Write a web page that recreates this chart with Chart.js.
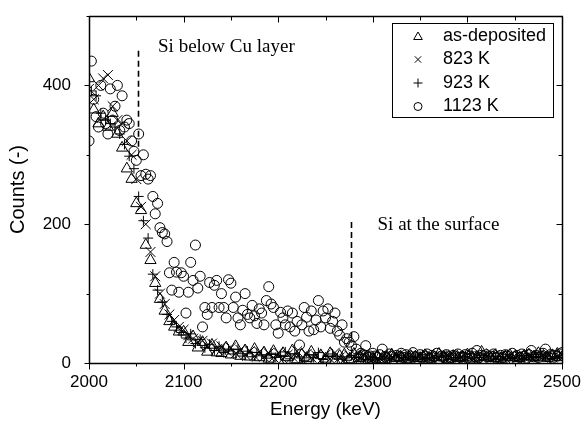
<!DOCTYPE html>
<html>
<head>
<meta charset="utf-8">
<script src="https://cdn.jsdelivr.net/npm/chart.js@4/dist/chart.umd.min.js"></script>
<style>
  html, body { margin: 0; padding: 0; background: #fff; }
  #wrap { width: 581px; height: 421px; }
</style>
</head>
<body>
<div id="wrap"><canvas id="c"></canvas></div>
<script>
// RBS spectra, Si signal

// energy grid (keV), 5 keV channels
const energy = [
  2000, 2005, 2010, 2015, 2020, 2025, 2030, 2035, 2040, 2045,
  2050, 2055, 2060, 2065, 2070, 2075, 2080, 2085, 2090, 2095,
  2100, 2105, 2110, 2115, 2120, 2125, 2130, 2135, 2140, 2145,
  2150, 2155, 2160, 2165, 2170, 2175, 2180, 2185, 2190, 2195,
  2200, 2205, 2210, 2215, 2220, 2225, 2230, 2235, 2240, 2245,
  2250, 2255, 2260, 2265, 2270, 2275, 2280, 2285, 2290, 2295,
  2300, 2305, 2310, 2315, 2320, 2325, 2330, 2335, 2340, 2345,
  2350, 2355, 2360, 2365, 2370, 2375, 2380, 2385, 2390, 2395,
  2400, 2405, 2410, 2415, 2420, 2425, 2430, 2435, 2440, 2445,
  2450, 2455, 2460, 2465, 2470, 2475, 2480, 2485, 2490, 2495,
  2500
];

// same channels shifted by half a step (923 K run)
const energyShift = [
  2002.5, 2007.5, 2012.5, 2017.5, 2022.5, 2027.5, 2032.5, 2037.5, 2042.5, 2047.5,
  2052.5, 2057.5, 2062.5, 2067.5, 2072.5, 2077.5, 2082.5, 2087.5, 2092.5, 2097.5,
  2102.5, 2107.5, 2112.5, 2117.5, 2122.5, 2127.5, 2132.5, 2137.5, 2142.5, 2147.5,
  2152.5, 2157.5, 2162.5, 2167.5, 2172.5, 2177.5, 2182.5, 2187.5, 2192.5, 2197.5,
  2202.5, 2207.5, 2212.5, 2217.5, 2222.5, 2227.5, 2232.5, 2237.5, 2242.5, 2247.5,
  2252.5, 2257.5, 2262.5, 2267.5, 2272.5, 2277.5, 2282.5, 2287.5, 2292.5, 2297.5,
  2302.5, 2307.5, 2312.5, 2317.5, 2322.5, 2327.5, 2332.5, 2337.5, 2342.5, 2347.5,
  2352.5, 2357.5, 2362.5, 2367.5, 2372.5, 2377.5, 2382.5, 2387.5, 2392.5, 2397.5,
  2402.5, 2407.5, 2412.5, 2417.5, 2422.5, 2427.5, 2432.5, 2437.5, 2442.5, 2447.5,
  2452.5, 2457.5, 2462.5, 2467.5, 2472.5, 2477.5, 2482.5, 2487.5, 2492.5, 2497.5
];

// energy grid for the 1123 K spectrum (2.5 keV channels)
const energyFine = [
  2000, 2002.5, 2005, 2007.5, 2010, 2012.5, 2015, 2017.5, 2020, 2022.5,
  2025, 2027.5, 2030, 2032.5, 2035, 2037.5, 2040, 2042.5, 2045, 2047.5,
  2050, 2052.5, 2055, 2057.5, 2060, 2062.5, 2065, 2067.5, 2070, 2072.5,
  2075, 2077.5, 2080, 2082.5, 2085, 2087.5, 2090, 2092.5, 2095, 2097.5,
  2100, 2102.5, 2105, 2107.5, 2110, 2112.5, 2115, 2117.5, 2120, 2122.5,
  2125, 2127.5, 2130, 2132.5, 2135, 2137.5, 2140, 2142.5, 2145, 2147.5,
  2150, 2152.5, 2155, 2157.5, 2160, 2162.5, 2165, 2167.5, 2170, 2172.5,
  2175, 2177.5, 2180, 2182.5, 2185, 2187.5, 2190, 2192.5, 2195, 2197.5,
  2200, 2202.5, 2205, 2207.5, 2210, 2212.5, 2215, 2217.5, 2220, 2222.5,
  2225, 2227.5, 2230, 2232.5, 2235, 2237.5, 2240, 2242.5, 2245, 2247.5,
  2250, 2252.5, 2255, 2257.5, 2260, 2262.5, 2265, 2267.5, 2270, 2272.5,
  2275, 2277.5, 2280, 2282.5, 2285, 2287.5, 2290, 2292.5, 2295, 2297.5,
  2300, 2302.5, 2305, 2307.5, 2310, 2312.5, 2315, 2317.5, 2320, 2322.5,
  2325, 2327.5, 2330, 2332.5, 2335, 2337.5, 2340, 2342.5, 2345, 2347.5,
  2350, 2352.5, 2355, 2357.5, 2360, 2362.5, 2365, 2367.5, 2370, 2372.5,
  2375, 2377.5, 2380, 2382.5, 2385, 2387.5, 2390, 2392.5, 2395, 2397.5,
  2400, 2402.5, 2405, 2407.5, 2410, 2412.5, 2415, 2417.5, 2420, 2422.5,
  2425, 2427.5, 2430, 2432.5, 2435, 2437.5, 2440, 2442.5, 2445, 2447.5,
  2450, 2452.5, 2455, 2457.5, 2460, 2462.5, 2465, 2467.5, 2470, 2472.5,
  2475, 2477.5, 2480, 2482.5, 2485, 2487.5, 2490, 2492.5, 2495, 2497.5,
  2500
];

// counts on `energy`
const asDeposited = [
  410, 365, 345, 355, 340, 360, 330, 310, 280, 265,
  230, 220, 170, 148, 115, 92, 75, 60, 52, 45,
  45, 30, 38, 22, 30, 16, 26, 15, 14, 22,
  12, 24, 10, 18, 9, 20, 8, 15, 6, 17,
  4, 14, 8, 18, 5, 12, 7, 16, 4, 11,
  6, 14, 3, 10, 12, 5, 13, 7, 9, 4,
  6, 10, 5, 9, 12, 7, 8, 6, 10, 9,
  7, 11, 6, 8, 13, 9, 5, 10, 7, 8,
  12, 6, 9, 16, 8, 7, 10, 6, 9, 11,
  8, 7, 10, 12, 8, 14, 9, 7, 11, 13,
  8
];

// counts on `energy`
const k823 = [
  395, 380, 400, 410, 415, 370, 350, 345, 320, 300,
  265, 225, 200, 160, 125, 100, 85, 70, 62, 52,
  48, 40, 35, 30, 32, 25, 28, 20, 24, 18,
  22, 14, 19, 12, 17, 10, 16, 9, 14, 8,
  15, 6, 12, 9, 17, 5, 13, 8, 11, 4,
  12, 6, 15, 8, 5, 11, 9, 4, 12, 7,
  11, 6, 9, 10, 8, 12, 7, 9, 11, 6,
  10, 8, 13, 9, 7, 10, 8, 12, 9, 6,
  11, 8, 10, 7, 9, 14, 8, 11, 7, 10,
  9, 12, 8, 10, 7, 11, 9, 13, 8, 10,
  12
];

// counts on `energyShift`
const k923 = [
  392, 385, 360, 350, 345, 340, 330, 315, 298, 280,
  240, 205, 180, 128, 105, 88, 70, 60, 52, 44,
  36, 42, 28, 34, 22, 27, 18, 24, 15, 20,
  13, 20, 10, 17, 9, 15, 12, 7, 14, 8,
  11, 16, 6, 13, 9, 4, 12, 8, 15, 5,
  10, 13, 6, 9, 4, 11, 8, 12, 5, 9,
  8, 7, 10, 6, 9, 11, 8, 10, 7, 9,
  12, 8, 6, 10, 9, 11, 7, 8, 10, 9,
  13, 7, 8, 11, 9, 10, 6, 9, 12, 8,
  10, 7, 11, 9, 8, 12, 10, 7, 9, 11
];

// counts on `energyFine`
const k1123 = [
  320, 435, 380, 355, 340, 400, 360, 345, 330, 395,
  350, 370, 400, 335, 385, 340, 350, 345, 320, 305,
  292, 330, 270, 300, 272, 265, 270, 240, 215, 230,
  195, 188, 186, 175, 130, 105, 145, 131, 102, 130,
  125, 72, 102, 145, 119, 170, 108, 125, 52, 80,
  70, 116, 80, 112, 119, 80, 100, 80, 65, 120,
  115, 80, 95, 65, 55, 76, 100, 70, 65, 83,
  68, 57, 78, 72, 55, 90, 110, 85, 80, 55,
  43, 73, 65, 55, 75, 52, 72, 46, 60, 26,
  55, 80, 66, 46, 75, 48, 62, 90, 52, 75,
  65, 78, 50, 60, 72, 46, 40, 55, 30, 35,
  30, 25, 38, 20, 9, 14, 12, 25, 8, 10,
  14, 10, 8, 12, 20, 9, 7, 13, 10, 6,
  11, 9, 14, 8, 12, 7, 10, 15, 9, 6,
  12, 8, 10, 13, 7, 11, 9, 14, 6, 10,
  8, 12, 9, 7, 11, 10, 13, 8, 9, 12,
  7, 10, 14, 9, 18, 8, 11, 6, 12, 9,
  10, 13, 7, 9, 11, 8, 12, 10, 6, 14,
  9, 11, 8, 13, 10, 7, 12, 18, 9, 11,
  8, 10, 14, 20, 9, 12, 7, 11, 10, 13,
  15
];

const seriesLabels = ['as-deposited', '823 K', '923 K', '1123 K'];
const seriesStyles = ['triangle', 'crossRot', 'cross', 'circle'];

// axis ticks
const xTicks = [2000, 2050, 2100, 2150, 2200, 2250, 2300, 2350, 2400, 2450, 2500];
const xLabels = [2000, 2100, 2200, 2300, 2400, 2500];
const yTicks = [0, 100, 200, 300, 400, 500];
const yLabels = [0, 200, 400];

// dashed markers: energy, from count, to count
const markerEnergy = [2052, 2277];
const markerFrom = [450, 203];
const markerTo = [305, 29];
const noteText = ['Si below Cu layer', 'Si at the surface'];
const noteEnergy = [2073, 2305];
const noteCount = [455, 199];

const SANS = '"Liberation Sans", Arial, Helvetica, sans-serif';
const SERIF = '"Liberation Serif", "Times New Roman", serif';

function pts(xs, ys) {
  return xs.map((x, i) => ({ x: x, y: ys[i] }));
}

const radii = [6.5, 7, 5, 5];

const datasets = [
  pts(energy, asDeposited),
  pts(energy, k823),
  pts(energyShift, k923),
  pts(energyFine, k1123)
].map((d, i) => ({
  label: seriesLabels[i],
  data: d,
  pointStyle: seriesStyles[i],
  pointRadius: radii[i],
  pointHoverRadius: radii[i],
  borderColor: '#000',
  backgroundColor: 'rgba(0,0,0,0)',
  pointBorderWidth: 1,
  showLine: false,
  clip: 0
}));

function seg(ctx, x1, y1, x2, y2) {
  ctx.beginPath();
  ctx.moveTo(x1, y1);
  ctx.lineTo(x2, y2);
  ctx.stroke();
}

// box, ticks, markers, notes and legend, drawn last
const framePlugin = {
  id: 'frame',
  afterDraw(chart) {
    const ctx = chart.ctx;
    const x = chart.scales.x, y = chart.scales.y;
    const L = Math.round(x.getPixelForValue(2000)) + 0.5;
    const R = Math.round(x.getPixelForValue(2500)) + 0.5;
    const T = Math.round(y.getPixelForValue(500)) + 0.5;
    const B = Math.round(y.getPixelForValue(0)) + 0.5;
    ctx.save();
    ctx.strokeStyle = '#000';
    ctx.setLineDash([]);
    ctx.lineWidth = 1.5;
    seg(ctx, L - 0.5, T, R + 0.5, T);
    seg(ctx, L - 0.5, B, R + 0.5, B);
    seg(ctx, L, T, L, B);
    seg(ctx, R, T, R, B);
    ctx.lineWidth = 1;
    xTicks.forEach(v => {
      const px = Math.round(x.getPixelForValue(v)) + 0.5;
      const major = xLabels.includes(v);
      seg(ctx, px, B, px, B + (major ? 6 : 3));
      seg(ctx, px, T, px, T + (major ? 6 : 4));
    });
    yTicks.forEach(v => {
      const py = Math.round(y.getPixelForValue(v)) + 0.5;
      const major = yLabels.includes(v);
      seg(ctx, L, py, L - (major ? 5 : 3), py);
      seg(ctx, R, py, R - (major ? 6 : 4), py);
    });

    // dashed markers
    ctx.setLineDash([6, 4]);
    ctx.lineWidth = 1.6;
    markerEnergy.forEach((e, i) => {
      const px = Math.round(x.getPixelForValue(e)) + 0.5;
      seg(ctx, px, y.getPixelForValue(markerFrom[i]), px, y.getPixelForValue(markerTo[i]));
    });
    ctx.setLineDash([]);

    // notes
    ctx.fillStyle = '#000';
    ctx.font = '19px ' + SERIF;
    ctx.textBaseline = 'middle';
    ctx.textAlign = 'left';
    noteText.forEach((t, i) => {
      ctx.fillText(t, x.getPixelForValue(noteEnergy[i]), y.getPixelForValue(noteCount[i]));
    });

    // legend
    const bx = 392, by = 23, bw = 161, bh = 94;
    ctx.fillStyle = '#fff';
    ctx.fillRect(bx, by, bw, bh);
    ctx.lineWidth = 1;
    ctx.strokeStyle = '#000';
    ctx.strokeRect(bx + 0.5, by + 0.5, bw, bh);
    ctx.font = '18px ' + SANS;
    seriesLabels.forEach((lab, i) => {
      const ry = by + 13 + i * 23.5;
      ctx.strokeStyle = '#000';
      ctx.fillStyle = 'rgba(0,0,0,0)';
      ctx.lineWidth = 1;
      Chart.helpers.drawPoint(ctx, {
        pointStyle: seriesStyles[i],
        radius: i === 0 ? 5 : (i === 3 ? 4 : 4.5),
        borderWidth: 1,
        rotation: 0
      }, bx + 26, ry + (i === 0 ? 1 : 0));
      ctx.fillStyle = '#000';
      ctx.fillText(lab, bx + 51, ry);
    });
    ctx.restore();
  }
};

new Chart(document.getElementById('c'), {
  type: 'scatter',
  data: { datasets: datasets },
  options: {
    responsive: true,
    maintainAspectRatio: false,
    animation: false,
    events: [],
    layout: { padding: { left: 0, top: 16, right: 19, bottom: 0 } },
    plugins: {
      legend: { display: false },
      tooltip: { enabled: false }
    },
    scales: {
      x: {
        type: 'linear',
        min: 2000,
        max: 2500,
        afterFit: s => { s.height = 58; s.paddingLeft = 0; s.paddingRight = 0; },
        afterBuildTicks: s => { s.ticks = xLabels.map(v => ({ value: v })); },
        grid: { display: false },
        border: { display: false },
        ticks: {
          padding: 1,
          color: '#000',
          font: { family: SANS, size: 17 },
          maxRotation: 0,
          autoSkip: false,
          callback: v => String(v)
        },
        title: {
          display: true,
          text: 'Energy (keV)',
          color: '#000',
          font: { family: SANS, size: 19 },
          padding: { top: 0, bottom: 0 }
        }
      },
      y: {
        type: 'linear',
        min: 0,
        max: 500,
        afterFit: s => { s.width = 89; s.paddingTop = 0; s.paddingBottom = 0; },
        afterBuildTicks: s => { s.ticks = yLabels.map(v => ({ value: v })); },
        grid: { display: false },
        border: { display: false },
        ticks: {
          padding: 10,
          color: '#000',
          font: { family: SANS, size: 17 },
          autoSkip: false,
          callback: v => String(v)
        },
        title: {
          display: true,
          text: 'Counts (-)',
          color: '#000',
          font: { family: SANS, size: 20 },
          padding: { top: 6, bottom: 0 }
        }
      }
    }
  },
  plugins: [framePlugin]
});
</script>
</body>
</html>
